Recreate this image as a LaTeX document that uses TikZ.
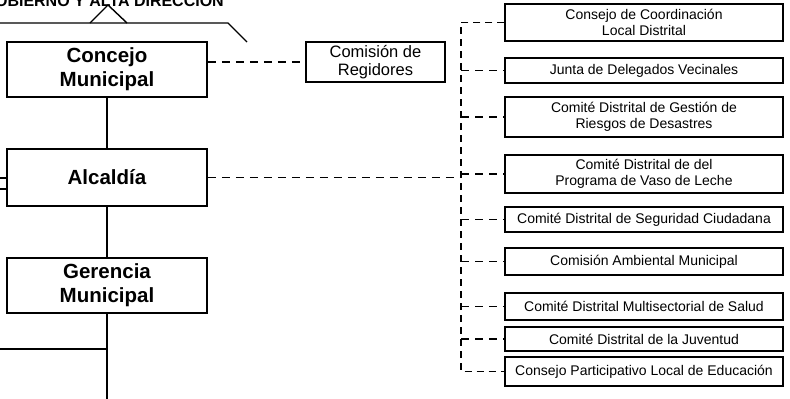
\documentclass[tikz,border=0pt]{standalone}
\usepackage{fontspec}
\setmainfont{Liberation Sans}
\begin{document}
\begin{tikzpicture}[x=1pt,y=-1pt,
  mainbox/.style={draw,line width=1.5pt,inner sep=0pt,minimum width=200pt,align=center,
    font=\bfseries\fontsize{20.5}{24}\selectfont},
  combox/.style={draw,line width=1.4pt,inner sep=0pt,minimum width=139pt,minimum height=40pt,align=center,
    font=\fontsize{16.5}{18}\selectfont},
  rbox/.style={draw,line width=1.2pt,inner sep=0pt,minimum width=278pt,align=center,
    font=\fontsize{14}{15.5}\selectfont},
  solidline/.style={line width=1.4pt},
  dashline/.style={line width=1.4pt,dash pattern=on 8pt off 6pt},
  busline/.style={line width=1.3pt,dash pattern=on 7pt off 5pt}]
\clip (0,0) rectangle (790,399);
\fill[white] (0,0) rectangle (790,399);

% heading (cut off at the top)
\node[anchor=base east,inner sep=0pt,font=\bfseries\fontsize{16}{18}\selectfont] (head) at (224,6) {GOBIERNO Y ALTA DIRECCIÓN};
\coordinate (hl) at (0,23);
\coordinate (hk) at (228,23);
\coordinate (he) at (247,42);
\coordinate (ta) at (90,23);
\coordinate (tb) at (108,5);
\coordinate (tc) at (127,23);
\draw[solidline] (hl) -- (hk) -- (he);
\draw[solidline] (ta) -- (tb) -- (tc);

% main column
\node[mainbox,minimum height=55pt] (con) at (107,69.5) {Concejo\\Municipal};
\node[mainbox,minimum height=57pt] (alc) at (107,177.5) {Alcaldía};
\node[mainbox,minimum height=55pt] (ger) at (107,285.5) {Gerencia\\Municipal};
\coordinate (bot) at (107,400);
\coordinate (lft) at (0,349);
\coordinate (s1) at (0,178);
\coordinate (s2) at (0,189);
\draw[solidline] (con) -- (alc);
\draw[solidline] (alc) -- (ger);
\draw[solidline] (ger) -- (bot);
\draw[solidline] (lft) -- (lft -| bot);
\draw[solidline] (s1) -- (s1 -| alc.west);
\draw[solidline] (s2) -- (s2 -| alc.west);

% comision
\node[combox] (com) at (375.5,62) {Comisión de\\Regidores};
\draw[dashline] (con.east |- com.west) -- (com.west);

% right column
\node[rbox,minimum height=37pt] (r1) at (644,22.5) {Consejo de Coordinación\\Local Distrital};
\node[rbox,minimum height=25pt] (r2) at (644,70.5) {Junta de Delegados Vecinales};
\node[rbox,minimum height=40pt] (r3) at (644,117) {Comité Distrital de Gestión de\\Riesgos de Desastres};
\node[rbox,minimum height=38pt] (r4) at (644,174) {Comité Distrital de del\\Programa de Vaso de Leche};
\node[rbox,minimum height=25pt] (r5) at (644,219.5) {Comité Distrital de Seguridad Ciudadana};
\node[rbox,minimum height=27pt] (r6) at (644,261.5) {Comisión Ambiental Municipal};
\node[rbox,minimum height=27pt] (r7) at (644,306.5) {Comité Distrital Multisectorial de Salud};
\node[rbox,minimum height=24pt] (r8) at (644,339) {Comité Distrital de la Juventud};
\node[rbox,minimum height=29pt] (r9) at (644,371.5) {Consejo Participativo Local de Educación};

\coordinate (bus) at (461,0);
\draw[busline] (r1.west) -- (r1.west -| bus) -- (r9.west -| bus) -- (r9.west);
\foreach \r in {r2,r3,r4,r5,r6,r7,r8}
  \draw[dashline] (\r.west -| bus) -- (\r.west);
\draw[dashline] (alc.east) -- (alc.east -| bus);
\end{tikzpicture}
\end{document}
